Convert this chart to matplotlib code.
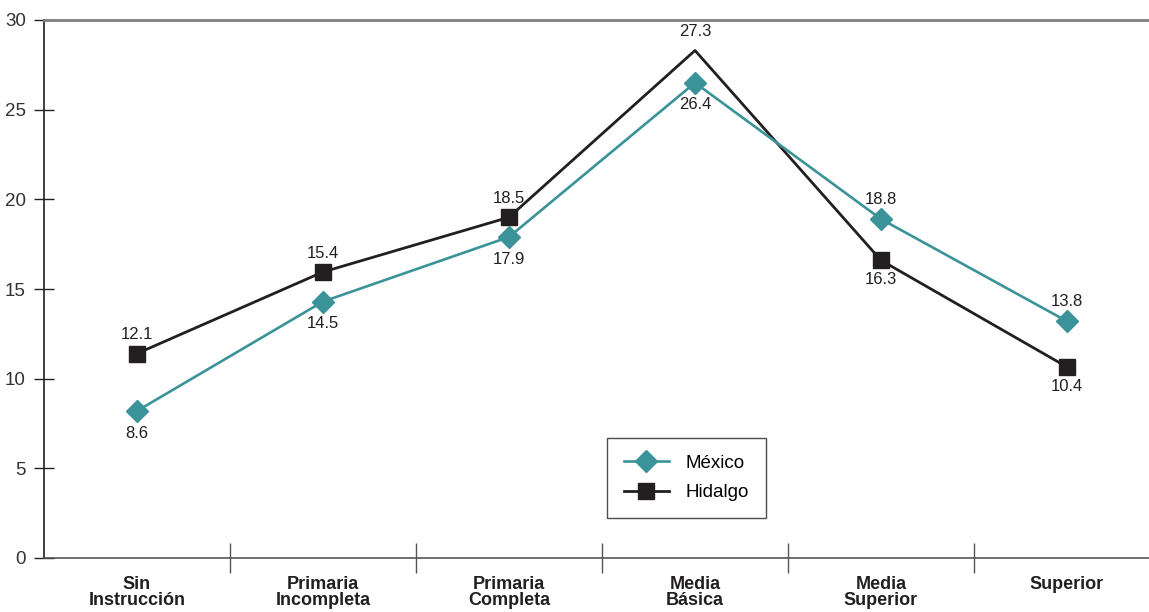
import matplotlib
matplotlib.use("Agg")
import matplotlib.pyplot as plt
from matplotlib import font_manager

categories = ["Sin\nInstrucción", "Primaria\nIncompleta", "Primaria\nCompleta",
              "Media\nBásica", "Media\nSuperior", "Superior"]
mexico_values = [8.2, 14.3, 17.9, 26.5, 18.9, 13.2]
hidalgo_values = [11.4, 15.95, 19.0, 28.3, 16.6, 10.65]
mexico_labels = ["8.6", "14.5", "17.9", "26.4", "18.8", "13.8"]
hidalgo_labels = ["12.1", "15.4", "18.5", "27.3", "16.3", "10.4"]
yticks = [0, 5, 10, 15, 20, 25, 30]

names = {f.name for f in font_manager.fontManager.ttflist}
narrow = "Liberation Sans Narrow" if "Liberation Sans Narrow" in names else "Liberation Sans"
plt.rcParams['font.family'] = [narrow, 'DejaVu Sans']

teal = "#3a9399"
dark = "#231f20"

fig = plt.figure(figsize=(11.49, 6.12), dpi=100)
W, H = 1149, 612
left, right, top, bottom = 44, 1160, 20, 558
ax = fig.add_axes([left / W, 1 - bottom / H, (right - left) / W, (bottom - top) / H])

x = list(range(len(categories)))
ax.plot(x, hidalgo_values, color=dark, lw=2.0, marker='s', ms=11.5,
        markevery=[0, 1, 2, 4, 5], label="Hidalgo", zorder=3)
ax.plot(x, mexico_values, color=teal, lw=1.9, marker='D', ms=11.5,
        label="México", zorder=4)

ax.set_xlim(-0.5, len(categories) - 0.5)
ax.set_ylim(0, 30)

hid_above = [True, True, True, True, False, False]
for i, (v, lab, up) in enumerate(zip(hidalgo_values, hidalgo_labels, hid_above)):
    ax.annotate(lab, (i, v), xytext=(0, 13.5 if up else -14), textcoords='offset points',
                ha='center', va='center', fontsize=12, color=dark)
mex_above = [False, False, False, False, True, True]
for i, (v, lab, up) in enumerate(zip(mexico_values, mexico_labels, mex_above)):
    ax.annotate(lab, (i, v), xytext=(0, 14 if up else -16), textcoords='offset points',
                ha='center', va='center', fontsize=12, color=dark)

ax.set_yticks(yticks)
ax.set_yticklabels([str(t) for t in yticks], fontsize=13.5, color="#333333")
ax.tick_params(axis='y', direction='inout', length=14, width=1, color=dark, pad=6)

ax.set_xticks([i + 0.5 for i in range(len(categories) - 1)])
ax.set_xticklabels([])
ax.tick_params(axis='x', direction='inout', length=22, width=1, color="#555555")
for i, c in enumerate(categories):
    ax.text(i, -0.033, c, transform=ax.get_xaxis_transform(), ha='center', va='top',
            fontsize=13, fontweight='bold', color=dark, linespacing=0.95)

ax.spines['right'].set_visible(False)
ax.spines['top'].set_color("#808080")
ax.spines['top'].set_linewidth(2)
ax.spines['left'].set_color(dark)
ax.spines['left'].set_linewidth(1.2)
ax.spines['bottom'].set_color("#555555")
ax.spines['bottom'].set_linewidth(1.2)

handles, labels = ax.get_legend_handles_labels()
leg = ax.legend(handles[::-1], labels[::-1], loc='upper left',
                bbox_to_anchor=((607 - left) / (right - left), 1 - (438 - top) / (bottom - top)),
                fontsize=13.5, frameon=True, fancybox=False, edgecolor=dark,
                borderpad=0.9, handlelength=2.4, labelspacing=0.65, handletextpad=0.9,
                borderaxespad=0)
leg.get_frame().set_linewidth(1.0)

fig.savefig("out.png", dpi=100)
